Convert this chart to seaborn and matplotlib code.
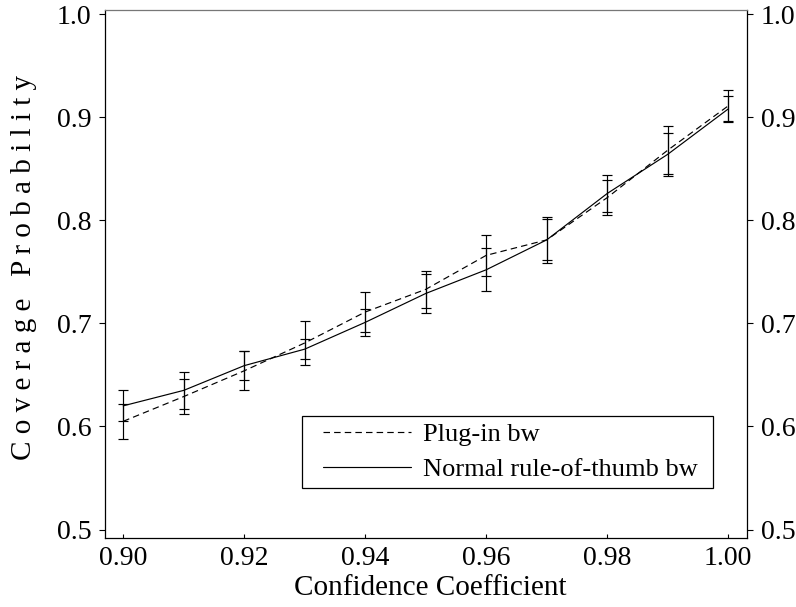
import numpy as np
import pandas as pd
import matplotlib
matplotlib.use('Agg')
import matplotlib.pyplot as plt
import seaborn as sns
from matplotlib.lines import Line2D
from matplotlib.legend_handler import HandlerLine2D

# =========================
#  DATA
# =========================
conf_coef = [0.90, 0.91, 0.92, 0.93, 0.94, 0.95, 0.96, 0.97, 0.98, 0.99, 1.00]

plugin_cov = [0.605, 0.629, 0.654, 0.681, 0.711, 0.733, 0.766, 0.781, 0.822, 0.868, 0.911]
plugin_err = [0.017, 0.017, 0.019, 0.021, 0.019, 0.018, 0.020, 0.022, 0.017, 0.023, 0.015]

normal_cov = [0.620, 0.635, 0.659, 0.675, 0.701, 0.729, 0.752, 0.781, 0.826, 0.864, 0.908]
normal_err = [0.015, 0.018, 0.014, 0.010, 0.013, 0.019, 0.021, 0.020, 0.018, 0.021, 0.013]

x_ticks = [0.90, 0.92, 0.94, 0.96, 0.98, 1.00]
y_ticks = [0.5, 0.6, 0.7, 0.8, 0.9, 1.0]

labels = ['Plug-in bw', 'Normal rule-of-thumb bw']


# =========================
#  PLOT
# =========================
def main():
    sns.set_theme(style='ticks')
    plt.rcParams['font.family'] = ['Liberation Serif', 'DejaVu Serif']
    plt.rcParams['text.color'] = 'black'
    plt.rcParams['axes.labelcolor'] = 'black'
    plt.rcParams['xtick.color'] = 'black'
    plt.rcParams['ytick.color'] = 'black'

    df = pd.DataFrame({
        'coef': conf_coef * 2,
        'cov': plugin_cov + normal_cov,
        'method': [labels[0]] * len(conf_coef) + [labels[1]] * len(conf_coef),
    })

    fig = plt.figure(figsize=(7.96, 6.07), dpi=100)
    ax = fig.add_axes([0.132, 0.1137, 0.8064, 0.8698])

    sns.lineplot(data=df, x='coef', y='cov', hue='method', style='method',
                 palette=['black', 'black'],
                 dashes={labels[0]: (5.5, 3.5), labels[1]: ''},
                 linewidth=0.85, ax=ax, legend=False)

    ax.errorbar(conf_coef, plugin_cov, yerr=plugin_err, fmt='none',
                ecolor='black', elinewidth=0.85, capsize=3.5, capthick=0.85)
    ax.errorbar(conf_coef, normal_cov, yerr=normal_err, fmt='none',
                ecolor='black', elinewidth=0.85, capsize=3.5, capthick=0.85)

    ax.set_xlim(0.897, 1.0031)
    ax.set_ylim(0.4918, 1.004)
    ax.set_xticks(x_ticks)
    ax.set_xticklabels([f'{v:.2f}' for v in x_ticks])
    ax.set_yticks(y_ticks)
    ax.set_yticklabels([f'{v:.1f}' for v in y_ticks])

    ax.tick_params(axis='y', direction='out', length=4, width=0.8, labelsize=20,
                   right=True, labelright=True, pad=6, colors='black')
    ax.tick_params(axis='x', direction='in', length=3, width=0.8, labelsize=20,
                   pad=6, colors='black')

    for side in ['left', 'right', 'bottom']:
        ax.spines[side].set_color('black')
        ax.spines[side].set_linewidth(0.9)
    ax.spines['top'].set_color('#777777')
    ax.spines['top'].set_linewidth(0.9)

    ax.set_xlabel('Confidence Coefficient', fontsize=21, color='black')
    ax.xaxis.set_label_coords(0.506, -0.070)
    ax.set_ylabel('C o v e r a g e   P r o b a b i l i t y', fontsize=21, color='black')
    ax.yaxis.set_label_coords(-0.106, 0.513)

    handles = [
        Line2D([], [], color='black', linewidth=0.85, dashes=(5.5, 3.5)),
        Line2D([], [], color='black', linewidth=0.85),
    ]
    hmap = {h: HandlerLine2D(numpoints=2, marker_pad=0.54) for h in handles}
    leg = ax.legend(handles, labels, loc='lower left',
                    bbox_to_anchor=(0.307, 0.0947, 0.640, 0.137),
                    mode='expand', borderaxespad=0,
                    fontsize=19, frameon=True, fancybox=False,
                    handlelength=4.42, handletextpad=-0.09,
                    labelspacing=0.43, borderpad=0.254,
                    handler_map=hmap, labelcolor='black')
    leg.get_frame().set_edgecolor('black')
    leg.get_frame().set_linewidth(0.9)
    leg.get_frame().set_alpha(1)

    fig.savefig('out.png', dpi=100)
    plt.close(fig)


if __name__ == '__main__':
    main()
